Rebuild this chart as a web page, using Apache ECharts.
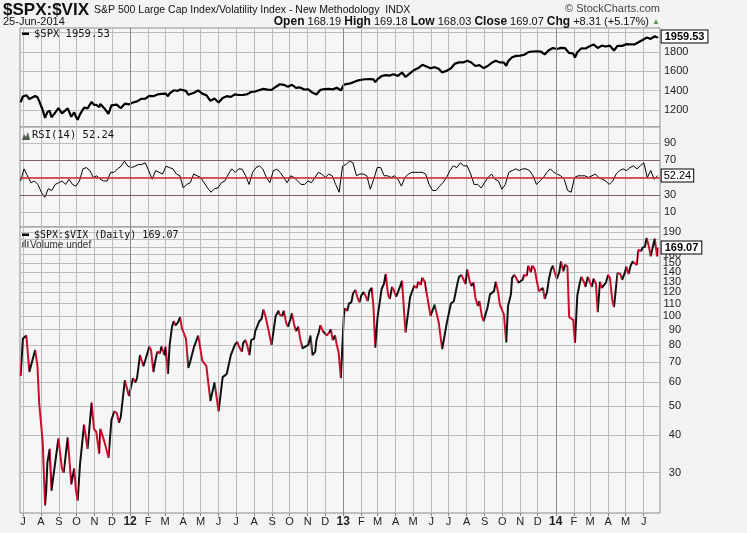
<!DOCTYPE html>
<html><head><meta charset="utf-8">
<script src="https://cdn.jsdelivr.net/npm/echarts@6/dist/echarts.min.js"></script>
<style>html,body{margin:0;padding:0;background:#f3f3f3}#c{width:747px;height:533px}</style>
</head><body><div id="c"></div><script>
// ---------- data ----------
const spxDates = ['2011-06-27','2011-07-01','2011-07-07','2011-07-12','2011-07-15','2011-07-22','2011-07-26','2011-07-29','2011-08-04','2011-08-08',
'2011-08-10','2011-08-12','2011-08-16','2011-08-19','2011-08-26','2011-08-31','2011-09-06','2011-09-09','2011-09-16','2011-09-22',
'2011-09-27','2011-09-30','2011-10-03','2011-10-07','2011-10-14','2011-10-20','2011-10-27','2011-10-31','2011-11-04','2011-11-09',
'2011-11-11','2011-11-18','2011-11-25','2011-11-30','2011-12-09','2011-12-16','2011-12-23','2011-12-30','2012-01-06','2012-01-13',
'2012-01-20','2012-01-27','2012-02-03','2012-02-10','2012-02-17','2012-02-24','2012-03-02','2012-03-06','2012-03-09','2012-03-16',
'2012-03-19','2012-03-23','2012-03-27','2012-03-30','2012-04-06','2012-04-10','2012-04-13','2012-04-20','2012-04-27','2012-05-04',
'2012-05-11','2012-05-18','2012-05-25','2012-06-01','2012-06-08','2012-06-15','2012-06-22','2012-06-29','2012-07-06','2012-07-13',
'2012-07-20','2012-07-27','2012-08-03','2012-08-10','2012-08-17','2012-08-24','2012-08-31','2012-09-07','2012-09-14','2012-09-21',
'2012-09-28','2012-10-05','2012-10-12','2012-10-19','2012-10-26','2012-11-02','2012-11-09','2012-11-16','2012-11-23','2012-11-30',
'2012-12-07','2012-12-14','2012-12-21','2012-12-28','2013-01-02','2013-01-04','2013-01-11','2013-01-18','2013-01-25','2013-02-01',
'2013-02-08','2013-02-15','2013-02-22','2013-02-25','2013-03-01','2013-03-08','2013-03-15','2013-03-22','2013-03-28','2013-04-05',
'2013-04-12','2013-04-18','2013-04-26','2013-05-03','2013-05-10','2013-05-17','2013-05-24','2013-05-31','2013-06-07','2013-06-14',
'2013-06-20','2013-06-28','2013-07-05','2013-07-12','2013-07-19','2013-07-26','2013-08-02','2013-08-09','2013-08-16','2013-08-23',
'2013-08-30','2013-09-06','2013-09-13','2013-09-20','2013-09-27','2013-10-04','2013-10-08','2013-10-11','2013-10-18','2013-10-25',
'2013-11-01','2013-11-08','2013-11-15','2013-11-22','2013-11-29','2013-12-06','2013-12-13','2013-12-20','2013-12-27','2014-01-03',
'2014-01-10','2014-01-17','2014-01-24','2014-01-31','2014-02-03','2014-02-07','2014-02-14','2014-02-21','2014-02-28','2014-03-07',
'2014-03-14','2014-03-21','2014-03-28','2014-04-04','2014-04-11','2014-04-17','2014-04-25','2014-05-02','2014-05-09','2014-05-16',
'2014-05-23','2014-05-30','2014-06-06','2014-06-13','2014-06-20','2014-06-24','2014-06-25'];

const spxValues = [1280,1340,1353,1314,1316,1345,1331,1292,1200,1119,
1121,1178,1193,1124,1177,1219,1165,1154,1216,1130,
1175,1131,1099,1155,1224,1216,1284,1253,1253,1229,
1263,1216,1159,1247,1255,1219,1265,1258,1278,1289,
1315,1316,1345,1343,1361,1366,1370,1343,1371,1404,
1409,1397,1412,1408,1398,1358,1370,1378,1403,1369,
1353,1295,1318,1278,1325,1343,1335,1362,1355,1357,
1363,1386,1391,1406,1418,1411,1407,1438,1466,1460,
1441,1461,1428,1433,1412,1414,1380,1360,1409,1416,
1418,1413,1430,1402,1462,1466,1472,1486,1503,1513,
1518,1520,1516,1488,1518,1551,1561,1556,1569,1553,
1588,1541,1582,1614,1634,1667,1650,1631,1643,1626,
1589,1606,1632,1680,1692,1692,1710,1691,1655,1664,
1633,1655,1688,1710,1692,1691,1656,1703,1745,1760,
1762,1771,1798,1805,1806,1805,1775,1818,1841,1831,
1843,1839,1790,1783,1742,1797,1838,1836,1859,1878,
1841,1866,1857,1865,1815,1864,1863,1881,1878,1878,
1900,1924,1949,1936,1963,1949,1959.53];

// $SPX:$VIX ratio readings [date, value]
const ratioPoints = [
['2011-06-27',63],['2011-07-01',84],['2011-07-07',86],['2011-07-12',65],['2011-07-15',66],['2011-07-22',77],['2011-07-26',68],['2011-07-29',51],
['2011-08-04',38],['2011-08-08',23.3],['2011-08-10',26],['2011-08-12',32.4],['2011-08-16',36],['2011-08-19',26.1],['2011-08-26',33],['2011-08-31',39],
['2011-09-06',31],['2011-09-09',30],['2011-09-16',39.3],['2011-09-22',27.4],['2011-09-27',31],['2011-09-30',26.3],['2011-10-03',24.2],['2011-10-07',31.9],
['2011-10-14',43.4],['2011-10-20',36],['2011-10-27',51.4],['2011-10-31',42],['2011-11-04',41],['2011-11-09',34.7],['2011-11-11',42],['2011-11-18',38],
['2011-11-25',33.6],['2011-11-30',45],['2011-12-05',48],['2011-12-09',47.5],['2011-12-13',44],['2011-12-16',46],['2011-12-23',61],['2011-12-30',54],
['2012-01-06',62],['2012-01-10',60],['2012-01-13',62],['2012-01-18',74],['2012-01-20',72],['2012-01-24',68],['2012-01-27',71],['2012-02-03',79],
['2012-02-06',77],['2012-02-10',65],['2012-02-14',72],['2012-02-17',76],['2012-02-21',75],['2012-02-24',79],['2012-02-29',74],['2012-03-02',79],
['2012-03-06',64],['2012-03-09',80],['2012-03-13',92],['2012-03-16',96],['2012-03-19',93],['2012-03-23',95],['2012-03-27',99],['2012-03-30',91],
['2012-04-06',84],['2012-04-10',67],['2012-04-13',70],['2012-04-20',79],['2012-04-27',86],['2012-05-04',71],['2012-05-11',68],['2012-05-18',52],
['2012-05-25',60],['2012-06-01',48],['2012-06-08',62.5],['2012-06-15',64],['2012-06-22',74],['2012-06-29',80],['2012-07-03',82],['2012-07-06',79],
['2012-07-11',76],['2012-07-13',81],['2012-07-17',83],['2012-07-20',80],['2012-07-24',74],['2012-07-27',83],['2012-08-01',84],['2012-08-03',89],
['2012-08-07',93],['2012-08-10',96],['2012-08-14',98],['2012-08-17',105],['2012-08-21',99],['2012-08-24',93],['2012-08-31',80],['2012-09-07',100],
['2012-09-12',104],['2012-09-14',101],['2012-09-18',100],['2012-09-21',104],['2012-09-25',95],['2012-09-28',92],['2012-10-02',97],['2012-10-05',102],
['2012-10-09',93],['2012-10-12',89],['2012-10-16',92],['2012-10-19',84],['2012-10-23',78],['2012-10-26',79],['2012-11-02',80],['2012-11-06',86],
['2012-11-09',74],['2012-11-14',76],['2012-11-16',83],['2012-11-20',88],['2012-11-23',93],['2012-11-27',89],['2012-11-30',89],['2012-12-04',86],
['2012-12-07',85],['2012-12-11',90],['2012-12-14',83],['2012-12-18',86],['2012-12-21',80],['2012-12-24',76],['2012-12-28',62],['2013-01-02',99.5],
['2013-01-04',106],['2013-01-08',104],['2013-01-11',110],['2013-01-15',111],['2013-01-18',119],['2013-01-22',122],['2013-01-25',116],['2013-01-29',111],
['2013-02-01',117],['2013-02-05',120],['2013-02-08',117],['2013-02-12',112],['2013-02-15',121],['2013-02-19',124],['2013-02-22',107],['2013-02-25',78.4],
['2013-03-01',99],['2013-03-05',112],['2013-03-08',123],['2013-03-12',128],['2013-03-15',138],['2013-03-19',118],['2013-03-22',114],['2013-03-26',125],
['2013-03-28',123],['2013-04-02',116],['2013-04-05',120],['2013-04-09',126],['2013-04-12',131],['2013-04-18',88],['2013-04-26',116],['2013-05-03',126],
['2013-05-07',124],['2013-05-10',130],['2013-05-14',127],['2013-05-17',134],['2013-05-21',130],['2013-05-24',132],['2013-05-31',100],['2013-06-07',109],
['2013-06-14',95],['2013-06-20',77.5],['2013-06-28',95],['2013-07-05',110],['2013-07-10',112],['2013-07-12',117],['2013-07-16',128],['2013-07-19',135],
['2013-07-23',137],['2013-07-26',133],['2013-07-30',128],['2013-08-02',143],['2013-08-06',131],['2013-08-09',126],['2013-08-13',129],['2013-08-16',115],
['2013-08-20',108],['2013-08-23',112],['2013-08-27',100],['2013-08-30',96],['2013-09-06',107],['2013-09-10',118],['2013-09-13',119],['2013-09-17',121],
['2013-09-20',130],['2013-09-24',120],['2013-09-27',109],['2013-10-04',101],['2013-10-08',81.5],['2013-10-11',108],['2013-10-16',118],['2013-10-18',134],
['2013-10-22',137],['2013-10-25',134],['2013-10-29',129],['2013-11-01',130],['2013-11-05',132],['2013-11-08',137],['2013-11-12',136],['2013-11-15',147],
['2013-11-19',140],['2013-11-22',147],['2013-11-26',143],['2013-11-29',132],['2013-12-03',121],['2013-12-06',120],['2013-12-10',124],['2013-12-13',114],
['2013-12-17',120],['2013-12-20',132],['2013-12-24',143],['2013-12-27',147],['2013-12-31',138],['2014-01-03',133],['2014-01-07',140],['2014-01-10',152],
['2014-01-14',141],['2014-01-17',148],['2014-01-21',146],['2014-01-24',99],['2014-01-31',97],['2014-02-03',81.4],['2014-02-07',117],['2014-02-11',128],
['2014-02-14',135],['2014-02-19',129],['2014-02-21',125],['2014-02-25',135],['2014-02-28',133],['2014-03-04',125],['2014-03-07',133],['2014-03-11',128],
['2014-03-14',103],['2014-03-18',130],['2014-03-21',124],['2014-03-25',127],['2014-03-28',129],['2014-04-01',137],['2014-04-04',134],['2014-04-08',113],
['2014-04-11',107],['2014-04-17',139],['2014-04-22',138],['2014-04-25',132],['2014-04-30',140],['2014-05-02',146],['2014-05-06',138],['2014-05-09',146],
['2014-05-13',152],['2014-05-16',151],['2014-05-20',148],['2014-05-23',166],['2014-05-28',165],['2014-05-30',169],['2014-06-03',170],['2014-06-06',182],
['2014-06-10',170],['2014-06-13',158],['2014-06-17',171],['2014-06-20',181],['2014-06-24',158],['2014-06-25',169.07]];

// RSI(14), evenly spaced readings between rsiStart and rsiEnd
const rsiStart = '2011-06-27';
const rsiEnd = '2014-06-25';
const rsiValues = [46,60,52,44,46,42,33,27,37,35,
42,44,46,42,48,42,40,46,60,61.5,
58,50,52,48,46,46,56,56,60,63,
69,63,61.5,63,65,65,67,58,48,58,
56,54,63,61.5,60,54,52,38,42,44,
54,52,50,44,38,33,37,38,44,46,
54,60,56,60,59.6,52,42,56,61.5,63.5,
59.6,50,44,58,59.6,56,50,44,52,50,
46,42,42,46,44,50,56,54,50,54,
52,42,33,63.5,65,69,67,52,54,54,
52,36.5,48,61.5,61.5,52,52,50,52,48,
40,50,54,56,56,56,56,54,42,35,
35,40,44,50,58,63.5,61.5,67,63.5,63.5,
54,42,42,38,44,50,54,48,46,36.5,
42,56,58,60,58,60,60,58,52,42,
46,50,56,60,56,54,52,48,35,33,
50,52,52,52,50,52,54,50,48,46,
42,46,54,58,60,58,61.5,63.5,60,63.5,
67,50,58,48,52.24];

const monthTicks = ['2011-07-01','2011-08-01','2011-09-01','2011-10-01','2011-11-01','2011-12-01',
'2012-01-01','2012-02-01','2012-03-01','2012-04-01','2012-05-01','2012-06-01','2012-07-01','2012-08-01','2012-09-01','2012-10-01','2012-11-01','2012-12-01',
'2013-01-01','2013-02-01','2013-03-01','2013-04-01','2013-05-01','2013-06-01','2013-07-01','2013-08-01','2013-09-01','2013-10-01','2013-11-01','2013-12-01',
'2014-01-01','2014-02-01','2014-03-01','2014-04-01','2014-05-01','2014-06-01'];
const monthLabels = ['J','A','S','O','N','D',
'12','F','M','A','M','J','J','A','S','O','N','D',
'13','F','M','A','M','J','J','A','S','O','N','D',
'14','F','M','A','M','J'];
const yearTicks = ['2012-01-01','2013-01-01','2014-01-01'];

const spxTicks = [1200,1400,1600,1800,2000];
const spxLabels = [1200,1400,1600,1800];
const rsiTicks = [10,30,50,70,90];
const ratioTicks = [30,40,50,60,70,80,90,100,110,120,130,140,150,160,170,180,190];

// ---------- build ----------
const ts = d => Date.parse(d);
const xMin = ts('2011-06-26'), xMax = ts('2014-06-29');
const spxData = spxDates.map((d,i)=>[ts(d), spxValues[i]]);
const ratioData = ratioPoints.map(p=>[ts(p[0]), p[1]]);
const rStep = (ts(rsiEnd)-ts(rsiStart))/(rsiValues.length-1);
const rsiData = rsiValues.map((v,k)=>[ts(rsiStart)+k*rStep, v]);
const monthTs = monthTicks.map(ts);
const labelMap = {};
monthTs.forEach((t,i)=>{ labelMap[t] = monthLabels[i]; });

const RED = '#c8102e';
const pieces = [];
for (let i=0;i<ratioData.length-1;i++){
  pieces.push({gte: ratioData[i][0], lt: ratioData[i+1][0],
    color: ratioData[i+1][1] >= ratioData[i][1] ? '#111111' : RED});
}

const FONT = '"Liberation Sans", Arial, sans-serif';
const MONO = '"DejaVu Sans Mono", monospace';
const GRID_LINE = '#bcbcbc';

function makeX(i, show){
  return {type:'value', gridIndex:i, min:xMin, max:xMax,
    axisLine:{show:false},
    axisTick:{show:show, customValues:monthTs, length:3, lineStyle:{color:'#888'}},
    axisLabel:{show:show, customValues:monthTs, margin:3, fontSize:11, fontFamily:FONT, color:'#222',
      formatter: v => { const l = labelMap[v]; if (l===undefined) return ''; return /\d/.test(l) ? '{y|'+l+'}' : l; },
      rich:{y:{fontWeight:'bold', fontSize:12, fontFamily:FONT, color:'#222'}}},
    splitLine:{show:true, lineStyle:{color:GRID_LINE, width:1}}
  };
}
const yearLines = yearTicks.map(d=>({xAxis: ts(d), lineStyle:{color:'#8a8a8a', width:1, type:'solid'}}));
const mlBase = {silent:true, symbol:['none','none'], label:{show:false}, animation:false};

const yLabel = {fontSize:11, fontFamily:FONT, color:'#222', showMinLabel:true, showMaxLabel:true,
  formatter: v => String(Math.round(v))};

const option = {
  animation:false,
  backgroundColor:'#f3f3f3',
  title:[
    {text:'{a|$SPX:$VIX} {b|S&P 500 Large Cap Index/Volatility Index - New Methodology  INDX}', left:3, top:1, padding:0,
     textStyle:{rich:{a:{fontSize:17, fontWeight:'bold', fontFamily:FONT, color:'#111'}, b:{fontSize:10.5, fontWeight:'normal', fontFamily:FONT, color:'#111'}}}},
    {text:'© StockCharts.com', right:87, top:3, padding:0, textStyle:{fontSize:11, fontFamily:FONT, fontWeight:'normal', color:'#444'}},
    {text:'25-Jun-2014', left:3, top:16, padding:0, textStyle:{fontSize:11, fontFamily:FONT, fontWeight:'normal', color:'#111'}},
    {text:'{b|Open} 168.19 {b|High} 169.18 {b|Low} 168.03 {b|Close} 169.07 {b|Chg} +8.31 (+5.17%) {g|▲}', right:87, top:16, padding:0,
     textStyle:{fontSize:11, fontFamily:FONT, fontWeight:'normal', color:'#111',
       rich:{b:{fontSize:12, fontWeight:'bold', fontFamily:FONT, color:'#111'}, g:{fontSize:8, color:'#5f8f5f'}}}}
  ],
  graphic:[
    {type:'rect', z:100, shape:{x:22, y:32.5, width:7, height:2.5}, style:{fill:'#000'}},
    {type:'text', z:100, x:34, y:29, style:{text:'$SPX 1959.53', font:'10.5px '+MONO, fill:'#111'}},
    {type:'polygon', z:100, shape:{points:[[22,140],[24,134],[26,137],[28,132],[30,140]]}, style:{fill:'#4d5e4d'}},
    {type:'text', z:100, x:32, y:130, style:{text:'RSI(14) 52.24', font:'10.5px '+MONO, fill:'#111'}},
    {type:'rect', z:100, shape:{x:22, y:233.5, width:7, height:2.5}, style:{fill:'#000'}},
    {type:'text', z:100, x:34, y:230, style:{text:'$SPX:$VIX (Daily) 169.07', font:'10px '+MONO, fill:'#111'}},
    {type:'rect', z:100, shape:{x:22, y:242, width:1.5, height:5}, style:{fill:'#666'}},
    {type:'rect', z:100, shape:{x:24.5, y:240, width:1.5, height:7}, style:{fill:'#666'}},
    {type:'rect', z:100, shape:{x:27, y:241, width:1.5, height:6}, style:{fill:'#666'}},
    {type:'text', z:100, x:30, y:240, style:{text:'Volume undef', font:'10px '+FONT, fill:'#333'}}
  ],
  grid:[
    {left:20, right:87, top:28, height:99, show:true, backgroundColor:'#f6f6f6', borderColor:'#8c8c8c', borderWidth:1},
    {left:20, right:87, top:127, height:100, show:true, backgroundColor:'#f6f6f6', borderColor:'#8c8c8c', borderWidth:1},
    {left:20, right:87, top:227, height:286, show:true, backgroundColor:'#f6f6f6', borderColor:'#8c8c8c', borderWidth:1}
  ],
  xAxis:[makeX(0,false), makeX(1,false), makeX(2,true)],
  yAxis:[
    {type:'value', gridIndex:0, position:'right', min:1024, max:2048,
     axisLine:{show:false}, axisTick:{show:false, customValues:spxTicks},
     axisLabel:Object.assign({customValues:spxLabels, margin:4}, yLabel),
     splitLine:{show:true, lineStyle:{color:GRID_LINE}}},
    {type:'value', gridIndex:1, position:'right', min:-7.2, max:108.4,
     axisLine:{show:false}, axisTick:{show:false, customValues:rsiTicks},
     axisLabel:Object.assign({customValues:rsiTicks, margin:4}, yLabel),
     splitLine:{show:true, lineStyle:{color:GRID_LINE}}},
    {type:'log', logBase:10, gridIndex:2, position:'right', min:22, max:198,
     axisLine:{show:false}, axisTick:{show:false, customValues:ratioTicks},
     axisLabel:Object.assign({customValues:ratioTicks, margin:21, align:'right'}, yLabel),
     splitLine:{show:true, lineStyle:{color:GRID_LINE}}}
  ],
  visualMap:[{type:'piecewise', show:false, dimension:0, seriesIndex:2, pieces:pieces, outOfRange:{color:RED}}],
  series:[
    {type:'line', xAxisIndex:0, yAxisIndex:0, data:spxData, showSymbol:false, symbol:'none',
     lineStyle:{color:'#000', width:2.2}, itemStyle:{color:'#000'},
     endLabel:{show:true, distance:4, formatter:p=>p.value[1].toFixed(2), fontSize:11, fontWeight:'bold', fontFamily:FONT,
       color:'#000', backgroundColor:'#fff', borderColor:'#000', borderWidth:1, padding:[1,3,0,3]},
     markLine:Object.assign({data:yearLines}, mlBase)},
    {type:'line', xAxisIndex:1, yAxisIndex:1, data:rsiData, showSymbol:false, symbol:'none',
     lineStyle:{color:'#000', width:1}, itemStyle:{color:'#000'},
     endLabel:{show:true, distance:4, formatter:p=>p.value[1].toFixed(2), fontSize:11, fontFamily:FONT,
       color:'#000', backgroundColor:'#fff', borderColor:'#000', borderWidth:1, padding:[1,2,0,2]},
     markLine:Object.assign({data:yearLines.concat([
       {yAxis:70, lineStyle:{color:'#7d5d5d', width:1, type:'solid'}},
       {yAxis:30, lineStyle:{color:'#7d5d5d', width:1, type:'solid'}},
       {yAxis:50, lineStyle:{color:'#d42a2a', width:1.5, type:'solid'}}
     ])}, mlBase)},
    {type:'line', xAxisIndex:2, yAxisIndex:2, data:ratioData, showSymbol:false, symbol:'none',
     lineStyle:{width:2},
     endLabel:{show:true, distance:4, formatter:p=>p.value[1].toFixed(2), fontSize:11, fontWeight:'bold', fontFamily:FONT,
       color:'#000', backgroundColor:'#fff', borderColor:'#000', borderWidth:1, padding:[1,3,0,3]},
     markLine:Object.assign({data:yearLines}, mlBase)}
  ]
};
const chart = echarts.init(document.getElementById('c'), null, {renderer:'canvas'});
chart.setOption(option);
</script></body></html>
